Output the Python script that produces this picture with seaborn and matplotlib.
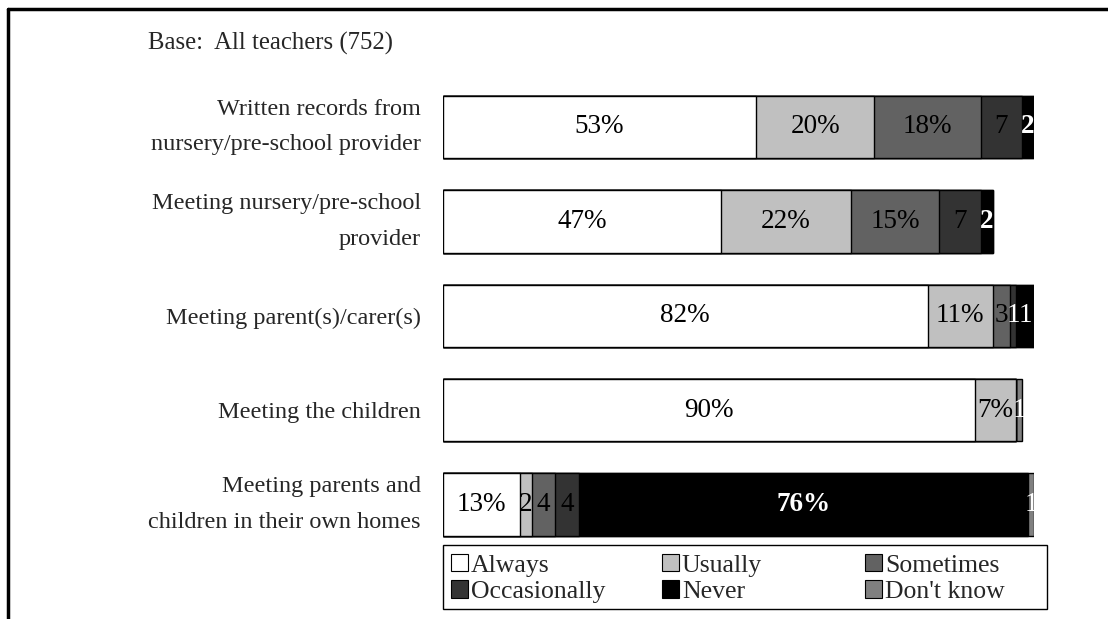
import numpy as np
import pandas as pd
import matplotlib
matplotlib.use("Agg")
import matplotlib.pyplot as plt
import seaborn as sns
from matplotlib.patches import Patch, Rectangle
from matplotlib.lines import Line2D

items = ["Written records from\nnursery/pre-school provider",
         "Meeting nursery/pre-school\nprovider",
         "Meeting parent(s)/carer(s)",
         "Meeting the children",
         "Meeting parents and\nchildren in their own homes"]
responses = ["Always", "Usually", "Sometimes", "Occasionally", "Never", "Don't know"]

always = [53, 47, 82, 90, 13]
usually = [20, 22, 11, 7, 2]
sometimes = [18, 15, 3, 0, 4]
occasionally = [7, 7, 1, 0, 4]
never = [2, 2, 3, 0, 76]
dont_know = [0, 0, 0, 1, 1]

always_lbl = ["53%", "47%", "82%", "90%", "13%"]
usually_lbl = ["20%", "22%", "11%", "7%", "2"]
sometimes_lbl = ["18%", "15%", "3", "", "4"]
occasionally_lbl = ["7", "7", "1", "", "4"]
never_lbl = ["2", "2", "1", "", "76%"]
dont_know_lbl = ["", "", "", "1", "1"]

colors = ["#ffffff", "#c0c0c0", "#626262", "#333333", "#000000", "#808080"]

series = [always, usually, sometimes, occasionally, never, dont_know]
labels = [always_lbl, usually_lbl, sometimes_lbl, occasionally_lbl, never_lbl, dont_know_lbl]

vals = np.array(series, dtype=float)  # shape (6, 5)
cum = vals.cumsum(axis=0)

sns.set_style("white")
plt.rcParams["font.family"] = ["Liberation Serif", "DejaVu Serif"]

fig = plt.figure(figsize=(11.08, 6.19), dpi=100)
W, H = 1108, 619
ax = fig.add_axes([443 / W, 1 - 551.7 / H, 591 / W, 471.9 / H])

# stacked bars: draw cumulative totals from the outermost layer inwards
for i in reversed(range(len(responses))):
    sns.barplot(x=cum[i], y=items, color=colors[i], saturation=1, width=0.66,
                edgecolor="black", linewidth=1, orient="y", errorbar=None, ax=ax)

for i in range(len(responses)):
    for j in range(len(items)):
        txt = labels[i][j]
        if not txt:
            continue
        start = cum[i][j] - vals[i][j]
        mid = start + vals[i][j] / 2
        white = i >= 4 or (i == 3 and vals[i][j] < 2)
        bold = i == 4 and txt != "1"
        ax.text(mid, j, txt, ha="center", va="center", fontsize=19.5,
                color="white" if white else "black",
                fontweight="bold" if bold else "normal")

ax.set_xlim(0, 100)
ax.set_ylim(4.5, -0.5)
ax.set_xlabel("")
ax.set_ylabel("")
ax.set_xticks([])
sns.despine(ax=ax, left=True, bottom=True)
ax.tick_params(axis="y", length=0, pad=16, labelsize=17.5)
for lab in ax.get_yticklabels():
    lab.set_linespacing(1.9)
    if "\n" in lab.get_text():
        lab.set_verticalalignment("center")

fig.text(148 / W, 1 - 43 / H, "Base:  All teachers (752)", fontsize=17.8,
         ha="left", va="center")

# legend: three columns inside one box
col_x = [451, 662, 865]
for c in range(3):
    handles = [Patch(facecolor=colors[k], edgecolor="black", linewidth=0.8)
               for k in (c, c + 3)]
    fig.legend(handles, [responses[c], responses[c + 3]], loc="upper left",
               bbox_to_anchor=(col_x[c] / W, 1 - 554 / H), frameon=False,
               fontsize=18.5, handlelength=0.65, handleheight=0.65,
               handletextpad=0.12, labelspacing=0.15, borderpad=0,
               borderaxespad=0)
fig.add_artist(Rectangle((443 / W, 1 - 609 / H), 604 / W, 64 / H,
                         transform=fig.transFigure, fill=False,
                         edgecolor="black", linewidth=1))

# outer frame (top and left edges)
fig.add_artist(Line2D([8 / W, 1], [1 - 9 / H, 1 - 9 / H],
                      transform=fig.transFigure, color="black", linewidth=2.5))
fig.add_artist(Line2D([8 / W, 8 / W], [0, 1 - 9 / H],
                      transform=fig.transFigure, color="black", linewidth=2.5))

fig.savefig("out.png", dpi=100)
